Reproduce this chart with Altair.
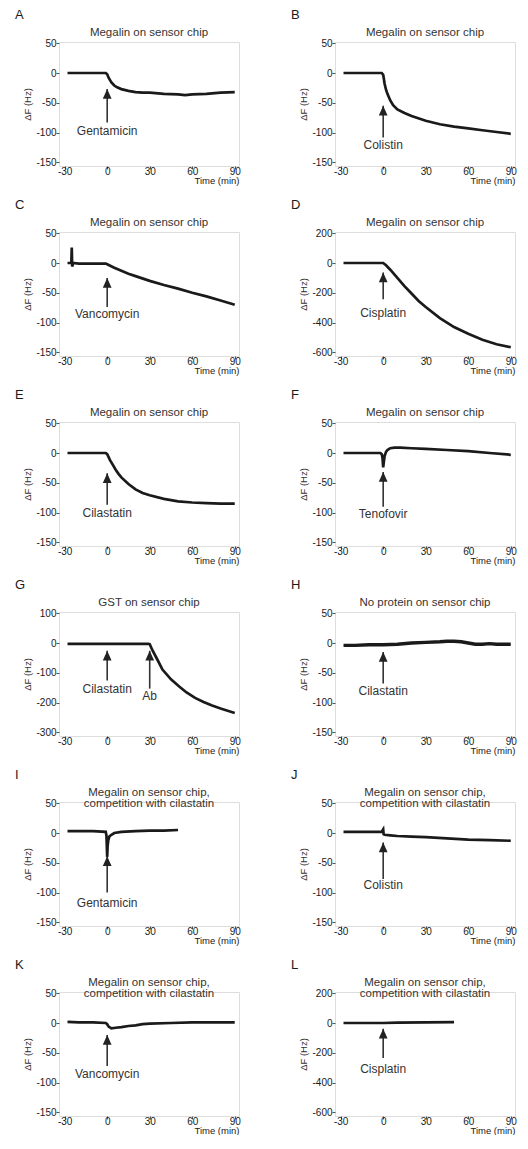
import altair as alt
import pandas as pd

# ---------------- data ----------------
A_t = [-28, -20, -10, -1, 0, 1, 2, 3, 5, 7, 10, 15, 20, 25, 30, 40, 50, 55, 60, 70, 80, 90]
A_v = [0, 0, 0, 0, -2, -8, -12, -16, -21, -24, -27, -30, -32, -33, -33, -35, -36, -37, -36, -35, -33, -32]

B_t = [-28, -20, -10, -1, 0, 0.5, 1, 2, 3, 5, 7, 10, 15, 20, 30, 40, 50, 60, 70, 80, 90]
B_v = [0, 0, 0, 0, -3, -10, -18, -28, -35, -46, -54, -61, -67, -72, -80, -86, -90, -93, -96, -99, -102]

C_t = [-28, -26, -25.3, -25, -24.7, -24, -20, -10, -1, 0, 5, 10, 15, 20, 30, 40, 50, 60, 70, 80, 90]
C_v = [0, 0, 0, 26, -6, 0, -1, -1, -1, -2, -8, -13, -18, -22, -30, -37, -43, -50, -56, -63, -70]

D_t = [-28, -20, -10, -1, 0, 2, 5, 10, 15, 20, 25, 30, 40, 50, 60, 70, 80, 90]
D_v = [0, 0, 0, 0, 0, -15, -45, -100, -155, -205, -255, -295, -370, -430, -475, -515, -545, -565]

E_t = [-28, -20, -10, -1, 0, 2, 4, 6, 8, 10, 15, 20, 25, 30, 40, 50, 60, 70, 80, 90]
E_v = [0, 0, 0, 0, -2, -12, -20, -28, -35, -41, -52, -61, -67, -71, -77, -81, -83, -84, -85, -85]

F_t = [-28, -20, -10, -2, -1, -0.5, 0, 0.5, 1, 2, 3, 5, 8, 12, 20, 30, 45, 60, 75, 90]
F_v = [0, 0, 0, 0, -2, -8, -24, -14, -5, 2, 5, 8, 9, 9, 8, 7, 5, 3, 0, -3]

G_t = [-28, -10, 0, 10, 20, 29, 30, 32, 35, 39, 45, 51, 56, 62, 68, 74, 80, 90]
G_v = [-3, -3, -3, -3, -3, -3, -4, -25, -52, -89, -122, -147, -166, -184, -198, -210, -220, -235]

H_t = [-28, -20, -10, 0, 10, 20, 30, 40, 45, 50, 55, 60, 65, 70, 75, 80, 90]
H_v = [-4, -4, -3, -3, -2, 0, 1, 2, 3, 3, 2, 0, -2, -2, -1, -2, -2]

I_t = [-28, -20, -10, -1, -0.5, 0, 0.3, 0.8, 1.5, 3, 5, 10, 20, 30, 40, 50]
I_v = [3, 3, 3, 2, -5, -40, -22, -12, -6, -3, 0, 2, 3, 4, 4, 5]

J_t = [-28, -10, -1, 0, 0.3, 1, 5, 10, 20, 30, 45, 60, 75, 90]
J_v = [2, 2, 2, 6, -2, -3, -4, -5, -6, -7, -9, -11, -12, -13]

K_t = [-28, -20, -10, -1, 0, 1, 3, 6, 10, 15, 20, 25, 30, 45, 60, 75, 90]
K_v = [2, 1, 1, 0, -2, -6, -9, -8, -7, -5, -4, -2, -1, 0, 1, 1, 1]

L_t = [-28, -10, 0, 10, 30, 50]
L_v = [0, 0, 0, 2, 4, 6]

# arrows: x, tip y, base y, label, label y
A_arrows = [(0, -27, -83, "Gentamicin", -98)]
B_arrows = [(0, -55, -108, "Colistin", -121)]
C_arrows = [(0, -25, -74, "Vancomycin", -86)]
D_arrows = [(0, -63, -244, "Cisplatin", -335)]
E_arrows = [(0, -34, -87, "Cilastatin", -100)]
F_arrows = [(0, -32, -90, "Tenofovir", -103)]
G_arrows = [(0, -26, -126, "Cilastatin", -153), (30, -26, -153, "Ab", -179)]
H_arrows = [(0, -15, -68, "Cilastatin", -81)]
I_arrows = [(0, -39, -100, "Gentamicin", -117)]
J_arrows = [(0, -16, -77, "Colistin", -88)]
K_arrows = [(0, -20, -72, "Vancomycin", -86)]
L_arrows = [(0, -39, -235, "Cisplatin", -311)]

TITLE1 = "Megalin on sensor chip"
TITLE2 = "Megalin on sensor chip,\ncompetition with cilastatin"
Y_SMALL = [-150, -100, -50, 0, 50]
Y_GST = [-300, -200, -100, 0, 100]
Y_BIG = [-600, -400, -200, 0, 200]
X_TICKS = [-30, 0, 30, 60, 90]

PW, PH = 180, 124
INK = "#1a1a1a"
FONT = "Liberation Sans"


def panel(letter, title, t, v, yticks, arrows, sw=2.7):
    lo, hi = yticks[0], yticks[-1]
    rng = hi - lo
    ydom = [lo - 0.03 * rng, hi + 0.01 * rng]
    df = pd.DataFrame({"t": t, "v": v})
    xs = alt.Scale(domain=[-34, 93], nice=False, zero=False)
    ys = alt.Scale(domain=ydom, nice=False, zero=False)
    xax = alt.Axis(values=X_TICKS, title="Time (min)", grid=False, domain=False,
                   tickSize=3, tickColor="#555", labelFontSize=10, labelPadding=-3,
                   labelColor=INK, labelFont=FONT, titleFont=FONT, labelOverlap=False,
                   labelExpr="'' + datum.value",
                   titleFontSize=9.5, titleFontWeight="normal", titleColor=INK,
                   titleAnchor="end", titleAlign="right", titlePadding=-1)
    yax = alt.Axis(values=yticks, title="ΔF (Hz)", grid=False, domain=False,
                   tickSize=3, tickColor="#555", labelFontSize=10, labelPadding=0,
                   labelColor=INK, labelFont=FONT, titleFont=FONT, labelOverlap=False,
                   labelExpr="'' + datum.value", labelBound=False,
                   titleFontSize=9.5, titleFontWeight="normal", titleColor="#333",
                   titlePadding=3)
    X = lambda f: alt.X(f, scale=xs, axis=xax)
    Y = lambda f: alt.Y(f, scale=ys, axis=yax)
    line = alt.Chart(df).mark_line(color=INK, strokeWidth=sw).encode(
        x=X("t:Q"), y=Y("v:Q"))
    adf = pd.DataFrame({
        "x": [a[0] for a in arrows],
        "tip": [a[1] for a in arrows],
        "base": [a[2] for a in arrows],
        "lab": [a[3] for a in arrows],
        "ly": [a[4] for a in arrows],
    })
    rule = alt.Chart(adf).mark_rule(color="#333", strokeWidth=1.6).encode(
        x=X("x:Q"), y=Y("tip:Q"), y2="base:Q")
    head = alt.Chart(adf).mark_point(shape="M0,0L0.9,2L-0.9,2Z", filled=True,
                                     opacity=1, color="#222", size=95).encode(
        x=X("x:Q"), y=Y("tip:Q"))
    lab = alt.Chart(adf).mark_text(fontSize=12, font=FONT, color="#333",
                                   baseline="middle", align="center").encode(
        x=X("x:Q"), y=Y("ly:Q"), text="lab:N")
    let = alt.Chart(pd.DataFrame({"l": [letter]})).mark_text(
        fontSize=13, font=FONT, color=INK, align="left", baseline="middle").encode(
        x=alt.value(-44), y=alt.value(-27), text="l:N")
    ttl = alt.Chart(pd.DataFrame({"l": [title]})).mark_text(
        fontSize=11.5, font=FONT, color="#333", align="center", baseline="bottom",
        lineBreak="\n", lineHeight=11).encode(
        x=alt.value(PW / 2), y=alt.value(-4), text="l:N")
    return alt.layer(line, rule, head, lab, let, ttl).properties(width=PW, height=PH)


pA = panel("A", TITLE1, A_t, A_v, Y_SMALL, A_arrows)
pB = panel("B", TITLE1, B_t, B_v, Y_SMALL, B_arrows)
pC = panel("C", TITLE1, C_t, C_v, Y_SMALL, C_arrows)
pD = panel("D", TITLE1, D_t, D_v, Y_BIG, D_arrows)
pE = panel("E", TITLE1, E_t, E_v, Y_SMALL, E_arrows)
pF = panel("F", TITLE1, F_t, F_v, Y_SMALL, F_arrows)
pG = panel("G", "GST on sensor chip", G_t, G_v, Y_GST, G_arrows)
pH = panel("H", "No protein on sensor chip", H_t, H_v, Y_SMALL, H_arrows, sw=3.4)
pI = panel("I", TITLE2, I_t, I_v, Y_SMALL, I_arrows)
pJ = panel("J", TITLE2, J_t, J_v, Y_SMALL, J_arrows)
pK = panel("K", TITLE2, K_t, K_v, Y_SMALL, K_arrows)
pL = panel("L", TITLE2, L_t, L_v, Y_BIG, L_arrows)

chart = alt.concat(pA, pB, pC, pD, pE, pF, pG, pH, pI, pJ, pK, pL,
                   columns=2, bounds="flush",
                   spacing={"row": 66, "column": 96}).properties(
    padding={"left": 6, "top": 0, "right": 0, "bottom": 0}
).configure_view(stroke="#505050", strokeWidth=2.2).configure(background="white")

chart.save("out.html", embed_options={"renderer": "svg", "actions": False})
